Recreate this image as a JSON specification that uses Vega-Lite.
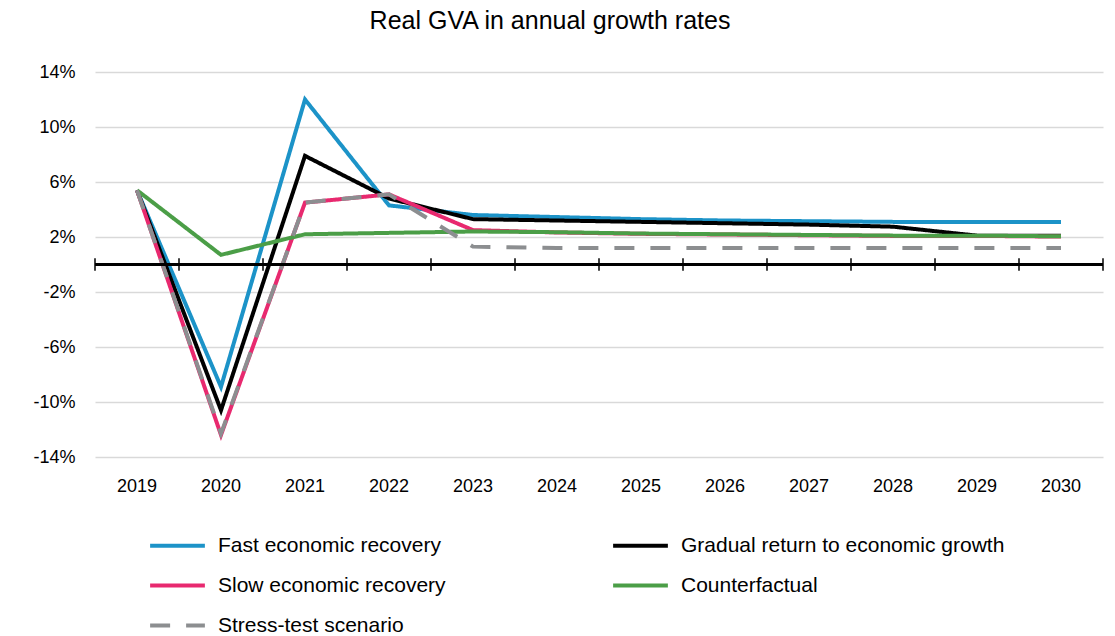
{
  "$schema": "https://vega.github.io/schema/vega-lite/v6.json",
  "autosize": {"type": "none"},
  "width": 1008,
  "height": 385,
  "padding": {"left": 95, "top": 72, "right": 12, "bottom": 179},
  "background": "white",
  "title": {"text": "Real GVA in annual growth rates", "fontSize": 25, "font": "Liberation Sans", "fontWeight": "normal", "color": "#000000", "anchor": "middle", "dx": -49, "offset": 29},
  "config": {
    "view": {"stroke": null},
    "font": "Liberation Sans",
    "legend": {"rowPadding": 0, "columnPadding": 159, "symbolType": "stroke", "symbolSize": 3000, "symbolStrokeWidth": 4, "labelFontSize": 21, "labelColor": "#000000", "labelOffset": 11, "labelLimit": 0, "columns": 2, "direction": "horizontal"}
  },
  "data": {"values": [
    {"scenario": "Fast economic recovery", "year": "2019", "value": 5.4},
    {"scenario": "Fast economic recovery", "year": "2020", "value": -8.9},
    {"scenario": "Fast economic recovery", "year": "2021", "value": 12.0},
    {"scenario": "Fast economic recovery", "year": "2022", "value": 4.3},
    {"scenario": "Fast economic recovery", "year": "2023", "value": 3.6},
    {"scenario": "Fast economic recovery", "year": "2024", "value": 3.45},
    {"scenario": "Fast economic recovery", "year": "2025", "value": 3.3},
    {"scenario": "Fast economic recovery", "year": "2026", "value": 3.2},
    {"scenario": "Fast economic recovery", "year": "2027", "value": 3.15},
    {"scenario": "Fast economic recovery", "year": "2028", "value": 3.1},
    {"scenario": "Fast economic recovery", "year": "2029", "value": 3.1},
    {"scenario": "Fast economic recovery", "year": "2030", "value": 3.1},
    {"scenario": "Gradual return to economic growth", "year": "2019", "value": 5.4},
    {"scenario": "Gradual return to economic growth", "year": "2020", "value": -10.6},
    {"scenario": "Gradual return to economic growth", "year": "2021", "value": 7.9},
    {"scenario": "Gradual return to economic growth", "year": "2022", "value": 4.8},
    {"scenario": "Gradual return to economic growth", "year": "2023", "value": 3.3},
    {"scenario": "Gradual return to economic growth", "year": "2024", "value": 3.2},
    {"scenario": "Gradual return to economic growth", "year": "2025", "value": 3.1},
    {"scenario": "Gradual return to economic growth", "year": "2026", "value": 3.0},
    {"scenario": "Gradual return to economic growth", "year": "2027", "value": 2.9},
    {"scenario": "Gradual return to economic growth", "year": "2028", "value": 2.75},
    {"scenario": "Gradual return to economic growth", "year": "2029", "value": 2.1},
    {"scenario": "Gradual return to economic growth", "year": "2030", "value": 2.1},
    {"scenario": "Slow economic recovery", "year": "2019", "value": 5.4},
    {"scenario": "Slow economic recovery", "year": "2020", "value": -12.4},
    {"scenario": "Slow economic recovery", "year": "2021", "value": 4.5},
    {"scenario": "Slow economic recovery", "year": "2022", "value": 5.1},
    {"scenario": "Slow economic recovery", "year": "2023", "value": 2.5},
    {"scenario": "Slow economic recovery", "year": "2024", "value": 2.33},
    {"scenario": "Slow economic recovery", "year": "2025", "value": 2.23},
    {"scenario": "Slow economic recovery", "year": "2026", "value": 2.18},
    {"scenario": "Slow economic recovery", "year": "2027", "value": 2.13},
    {"scenario": "Slow economic recovery", "year": "2028", "value": 2.08},
    {"scenario": "Slow economic recovery", "year": "2029", "value": 2.08},
    {"scenario": "Slow economic recovery", "year": "2030", "value": 2.03},
    {"scenario": "Counterfactual", "year": "2019", "value": 5.4},
    {"scenario": "Counterfactual", "year": "2020", "value": 0.7},
    {"scenario": "Counterfactual", "year": "2021", "value": 2.2},
    {"scenario": "Counterfactual", "year": "2022", "value": 2.3},
    {"scenario": "Counterfactual", "year": "2023", "value": 2.4},
    {"scenario": "Counterfactual", "year": "2024", "value": 2.35},
    {"scenario": "Counterfactual", "year": "2025", "value": 2.25},
    {"scenario": "Counterfactual", "year": "2026", "value": 2.2},
    {"scenario": "Counterfactual", "year": "2027", "value": 2.15},
    {"scenario": "Counterfactual", "year": "2028", "value": 2.1},
    {"scenario": "Counterfactual", "year": "2029", "value": 2.1},
    {"scenario": "Counterfactual", "year": "2030", "value": 2.05},
    {"scenario": "Stress-test scenario", "year": "2019", "value": 5.4},
    {"scenario": "Stress-test scenario", "year": "2020", "value": -12.3},
    {"scenario": "Stress-test scenario", "year": "2021", "value": 4.5},
    {"scenario": "Stress-test scenario", "year": "2022", "value": 5.1},
    {"scenario": "Stress-test scenario", "year": "2023", "value": 1.3},
    {"scenario": "Stress-test scenario", "year": "2024", "value": 1.2},
    {"scenario": "Stress-test scenario", "year": "2025", "value": 1.2},
    {"scenario": "Stress-test scenario", "year": "2026", "value": 1.2},
    {"scenario": "Stress-test scenario", "year": "2027", "value": 1.2},
    {"scenario": "Stress-test scenario", "year": "2028", "value": 1.2},
    {"scenario": "Stress-test scenario", "year": "2029", "value": 1.2},
    {"scenario": "Stress-test scenario", "year": "2030", "value": 1.2}
  ]},
  "layer": [
    {
      "transform": [{"filter": "datum.scenario !== 'Counterfactual' && datum.scenario !== 'Stress-test scenario'"}],
      "mark": {"type": "line", "strokeWidth": 4, "strokeCap": "butt", "strokeJoin": "miter"},
      "encoding": {
        "x": {
          "field": "year", "type": "ordinal", "bandPosition": 0.5, "title": null,
          "scale": {"type": "band", "paddingInner": 0, "paddingOuter": 0},
          "axis": {"labelAngle": 0, "labelFontSize": 18, "labelColor": "#000000", "ticks": false, "domain": false, "grid": false, "labelPadding": 20}
        },
        "y": {
          "field": "value", "type": "quantitative", "title": null,
          "scale": {"domain": [-14, 14], "nice": false, "zero": false},
          "axis": {"values": [-14, -10, -6, -2, 2, 6, 10, 14], "labelExpr": "datum.value + '%'", "labelFontSize": 18, "labelColor": "#000000", "ticks": false, "domain": false, "grid": true, "gridColor": "#d9d9d9", "gridWidth": 1.5, "labelPadding": 20}
        },
        "color": {
          "field": "scenario", "type": "nominal", "title": null,
          "scale": {
            "domain": ["Fast economic recovery", "Gradual return to economic growth", "Slow economic recovery", "Counterfactual", "Stress-test scenario"],
            "range": ["#1C93C8", "#000000", "#E8296F", "#4B9E47", "#8C8E90"]
          },
          "legend": {"orient": "none", "legendX": 53, "legendY": 444, "direction": "horizontal", "columns": 2}
        },
        "strokeDash": {
          "field": "scenario", "type": "nominal", "title": null,
          "scale": {
            "domain": ["Fast economic recovery", "Gradual return to economic growth", "Slow economic recovery", "Counterfactual", "Stress-test scenario"],
            "range": [[1, 0], [1, 0], [1, 0], [1, 0], [20, 16]]
          },
          "legend": {"orient": "none", "legendX": 53, "legendY": 444, "direction": "horizontal", "columns": 2}
        }
      }
    },
    {
      "transform": [{"filter": "datum.scenario === 'Counterfactual'"}],
      "mark": {"type": "line", "strokeWidth": 4, "strokeCap": "butt", "strokeJoin": "miter"},
      "encoding": {
        "x": {"field": "year", "type": "ordinal", "bandPosition": 0.5, "title": null,
          "axis": {"labelAngle": 0, "labelFontSize": 18, "labelColor": "#000000", "ticks": false, "domain": false, "grid": false, "labelPadding": 20}},
        "y": {"field": "value", "type": "quantitative", "title": null,
          "axis": {"values": [-14, -10, -6, -2, 2, 6, 10, 14], "labelExpr": "datum.value + '%'", "labelFontSize": 18, "labelColor": "#000000", "ticks": false, "domain": false, "grid": true, "gridColor": "#d9d9d9", "gridWidth": 1.5, "labelPadding": 20}},
        "color": {"field": "scenario", "type": "nominal", "title": null},
        "strokeDash": {"field": "scenario", "type": "nominal", "title": null}
      }
    },
    {
      "transform": [{"filter": "datum.scenario === 'Stress-test scenario'"}],
      "mark": {"type": "line", "strokeWidth": 4, "strokeCap": "butt", "strokeJoin": "miter"},
      "encoding": {
        "x": {"field": "year", "type": "ordinal", "bandPosition": 0.5, "title": null,
          "axis": {"labelAngle": 0, "labelFontSize": 18, "labelColor": "#000000", "ticks": false, "domain": false, "grid": false, "labelPadding": 20}},
        "y": {"field": "value", "type": "quantitative", "title": null,
          "axis": {"values": [-14, -10, -6, -2, 2, 6, 10, 14], "labelExpr": "datum.value + '%'", "labelFontSize": 18, "labelColor": "#000000", "ticks": false, "domain": false, "grid": true, "gridColor": "#d9d9d9", "gridWidth": 1.5, "labelPadding": 20}},
        "color": {"field": "scenario", "type": "nominal", "title": null},
        "strokeDash": {"field": "scenario", "type": "nominal", "title": null}
      }
    },
    {
      "mark": {"type": "rule", "color": "#000000", "strokeWidth": 1.5},
      "encoding": {
        "y": {"datum": 0, "type": "quantitative", "title": null,
          "axis": {"values": [-14, -10, -6, -2, 2, 6, 10, 14], "labelExpr": "datum.value + '%'", "labelFontSize": 18, "labelColor": "#000000", "ticks": false, "domain": false, "grid": true, "gridColor": "#d9d9d9", "gridWidth": 1.5, "labelPadding": 20}}
      }
    },
    {
      "transform": [{"filter": "datum.scenario === 'Counterfactual'"}],
      "mark": {"type": "rule", "color": "#000000", "strokeWidth": 1.5},
      "encoding": {
        "x": {"field": "year", "type": "ordinal", "bandPosition": 0, "title": null,
          "axis": {"labelAngle": 0, "labelFontSize": 18, "labelColor": "#000000", "ticks": false, "domain": false, "grid": false, "labelPadding": 20}},
        "y": {"datum": -0.45, "type": "quantitative", "title": null,
          "axis": {"values": [-14, -10, -6, -2, 2, 6, 10, 14], "labelExpr": "datum.value + '%'", "labelFontSize": 18, "labelColor": "#000000", "ticks": false, "domain": false, "grid": true, "gridColor": "#d9d9d9", "gridWidth": 1.5, "labelPadding": 20}},
        "y2": {"datum": 0.45}
      }
    },
    {
      "transform": [{"filter": "datum.scenario === 'Counterfactual' && datum.year === '2030'"}],
      "mark": {"type": "rule", "color": "#000000", "strokeWidth": 1.5},
      "encoding": {
        "x": {"field": "year", "type": "ordinal", "bandPosition": 1, "title": null,
          "axis": {"labelAngle": 0, "labelFontSize": 18, "labelColor": "#000000", "ticks": false, "domain": false, "grid": false, "labelPadding": 20}},
        "y": {"datum": -0.45, "type": "quantitative", "title": null,
          "axis": {"values": [-14, -10, -6, -2, 2, 6, 10, 14], "labelExpr": "datum.value + '%'", "labelFontSize": 18, "labelColor": "#000000", "ticks": false, "domain": false, "grid": true, "gridColor": "#d9d9d9", "gridWidth": 1.5, "labelPadding": 20}},
        "y2": {"datum": 0.45}
      }
    }
  ]
}
